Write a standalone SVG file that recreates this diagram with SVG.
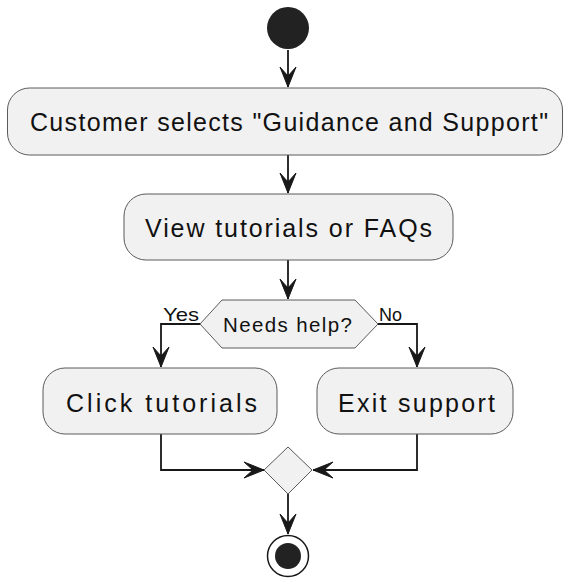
<svg xmlns="http://www.w3.org/2000/svg" width="564" height="581" viewBox="0 0 564 581">
  <style>
    .act { fill: #F1F1F1; stroke: #5a5a5a; stroke-width: 1; }
    .lbl { font-family: "Liberation Sans", Arial, sans-serif; fill: #111111; }
    .big { font-size: 25px; }
    .mid { font-size: 20.5px; }
    .small { font-size: 19px; }
    .edge { fill: none; stroke: #181818; stroke-width: 1.8; }
    .dot { fill: #222222; }
  </style>
  <defs>
    <marker id="arrow" markerUnits="userSpaceOnUse" markerWidth="22" markerHeight="18" viewBox="-21 -9 22 18" refX="0" refY="0" orient="auto">
      <path d="M0,0 L-20,-8 L-11,0 L-20,8 Z" fill="#181818" stroke="#181818" stroke-width="1"/>
    </marker>
  </defs>

  <!-- connectors -->
  <g id="connectors">
    <path class="edge" d="M288,50 L288,87" marker-end="url(#arrow)"/>
    <path class="edge" d="M288,155 L288,193" marker-end="url(#arrow)"/>
    <path class="edge" d="M288,260 L288,299" marker-end="url(#arrow)"/>
    <path class="edge" d="M200,324 L161,324 L161,367" marker-end="url(#arrow)"/>
    <path class="edge" d="M378,324 L417,324 L417,367" marker-end="url(#arrow)"/>
    <path class="edge" d="M161,434 L161,470 L264,470" marker-end="url(#arrow)"/>
    <path class="edge" d="M417,434 L417,470 L313,470" marker-end="url(#arrow)"/>
    <path class="edge" d="M288,494 L288,534" marker-end="url(#arrow)"/>
    <text class="lbl small" x="163" y="321" textLength="36" lengthAdjust="spacingAndGlyphs">Yes</text>
    <text class="lbl small" x="379" y="321" textLength="23" lengthAdjust="spacingAndGlyphs">No</text>
  </g>

  <!-- start -->
  <g id="start">
    <circle class="dot" cx="288" cy="28" r="21"/>
  </g>

  <g id="select">
    <rect class="act" x="7.5" y="88" width="555" height="67" rx="22" ry="22"/>
    <text class="lbl big" x="30" y="131" textLength="518" lengthAdjust="spacing">Customer selects "Guidance and Support"</text>
  </g>

  <g id="view">
    <rect class="act" x="124" y="194" width="329" height="66" rx="22" ry="22"/>
    <text class="lbl big" x="145" y="237" textLength="287" lengthAdjust="spacing">View tutorials or FAQs</text>
  </g>

  <g id="decision">
    <polygon class="act" points="200,324 222,300 355,300 378,324 355,348 222,348"/>
    <text class="lbl mid" x="223" y="332" textLength="129" lengthAdjust="spacing">Needs help?</text>
  </g>

  <g id="click">
    <rect class="act" x="43" y="368" width="234" height="66" rx="22" ry="22"/>
    <text class="lbl big" x="66" y="412" textLength="191" lengthAdjust="spacing">Click tutorials</text>
  </g>

  <g id="exit">
    <rect class="act" x="317" y="368" width="196" height="66" rx="22" ry="22"/>
    <text class="lbl big" x="338" y="412" textLength="157" lengthAdjust="spacing">Exit support</text>
  </g>

  <g id="merge">
    <polygon class="act" points="288,447 312,470 288,494 264,470"/>
  </g>

  <g id="end">
    <circle cx="288" cy="556" r="20.5" fill="none" stroke="#181818" stroke-width="1.5"/>
    <circle class="dot" cx="288" cy="556" r="13"/>
  </g>
</svg>
